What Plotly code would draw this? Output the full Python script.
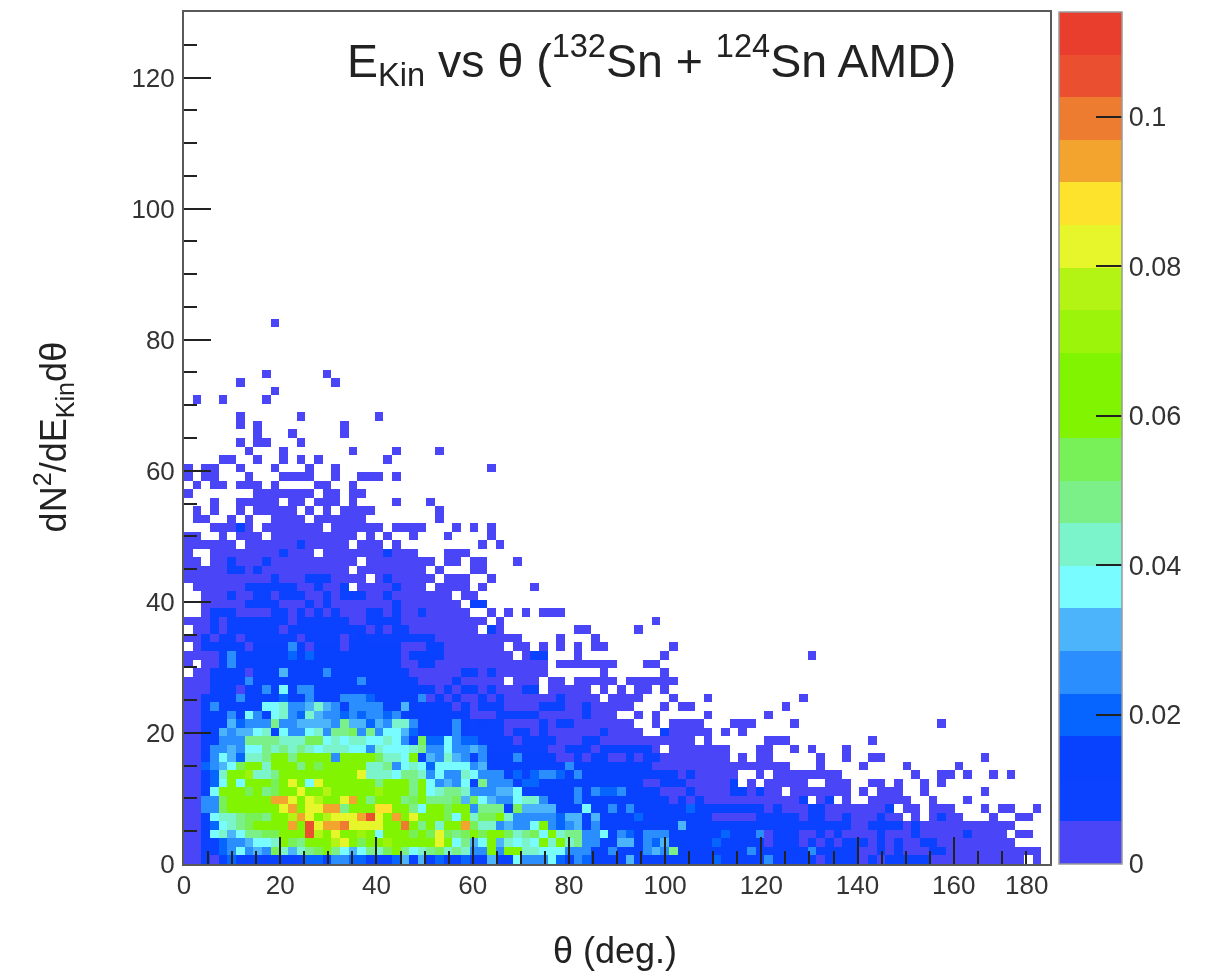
import plotly.graph_objects as go

# Histogram cells, one string per row from the lowest row upward, 100 columns.
# '.' = empty cell; other characters are colour-band numbers in base 36 (1..k).
rows_from_bottom = [
"1121343333 3333443554 4333463634 3343363375 5574354333 3633333333 3433332522 2221222212 1222221111 1111111.1.",
"1123457565 a8689ab976 798ab9789a 89855b5bb8 8777555335 3335659333 3333352222 3252222211 2121112211 111111111.",
"1123455677 8ba9bbbefb abbdcbbbbf b7967c6878 7c8b895533 6635463333 3433333122 2121212221 2121122111 111111....",
"113786799a acbbjebfbc db7bbbabaf a9ababba89 a7b8995573 5435553333 3343335122 2112121111 2111211111 21111.11..",
"1134789abb bchcjfhhif fffbcib9b8 bbha885655 7c54563533 3333333633 3333332222 2222222112 2221211111 111111....",
"1137889aa9 bcehfcefff hjfchbfbbb a7b8aab855 5554663633 3343333333 3111112222 2122112111 211.1.1211 ...1..11..",
"1155abbbbb cfhbffhh9b ccggbb97bb abb59993a6 6663337335 3533333343 3333332121 1122111111 12.11.111. ..1.11..1.",
"1155abcbbb hhfcfecbfh b9bbb9ab99 9a6a765578 8533353333 3333331313 1111111111 12.12.1..1 1111..1... 1.........",
"1137bcbab9 abcfbcecbb cbdbcb9b78 9985556673 3333353544 5333311131 111331311. 1111111.1. 111..1.... ..1.......",
"11347b7bbb abfb7fbbbb bb9bbc9b75 6573955534 4333333333 3331133311 1113.1.111 11..111..1 1.1..1.1.. ..........",
"11348bbd88 9bbbbbbbbb f888799857 5587555343 4554353333 3333333131 1111..1.11 111111.... ....1..11. 1..1.1....",
"114567abc8 bbb9babbbb b889578747 7775633333 3333533333 3333111111 1111111111 ...1....1. ...1.....1 ..........",
"1135764889 bb9bbbb5bb bba887b365 8653533353 3331121331 1312211111 111.1.11.. ...1..1..1 1......... ..1.......",
"1125565779 8989878887 7587778955 7556522222 2211222122 22221.1111 111...11.. 1.1...1... .......... ..........",
"1123555999 9888aa7878 8778753a44 7544222212 2221112211 111111111. 1......111 .........1 .......... ..........",
"1133656678 375578599a 5957764333 3532222122 1211111121 111..21111 1.1.1..... .......... .......... ..........",
"1133364555 9556666596 6465885333 3532322111 1212211111 11..1.1111 ...111.... 1......... .......1.. ..........",
"1133353753 7854865545 4554533333 3331112222 2111112111 ..1.1..... 1......1.. .......... .......... ..........",
"1135333337 7855686535 5553363333 3131222111 1222112111 11...1.11. .........1 .......... .......... ..........",
"1133335333 3433533355 5433333513 1311212111 11121111.1 111...1... 1......... .1........ .......... ..........",
"1113331335 3735533333 3333333331 3132121112 2.11111.1. 1.11.1.... .......... .......... .......... ..........",
"1113333533 3333333333 5333333111 1311111.11 1.11.11111 .111111... .......... .......... .......... ..........",
".113333133 3633335333 3333331111 1132121111 11......1. .....1.... .......... .......... .......... ..........",
"1.11353333 3333333333 3333311331 1111111111 11.1111111 ...11..... .......... .......... .......... ..........",
"1111353333 3343433333 3333313333 11111111.1 22...1.... .....1.... .......... ..1....... .......... ..........",
".123333133 3353133313 3333311133 1111111.11 .1.1.1.11. ......1... .......... .......... .......... ..........",
"1121221222 2221222212 3222222221 111111111. ...1...1.. .......... .......... .......... .......... ..........",
".112122222 2122222222 2121221111 1111.21... .....11... ..1....... .......... .......... .......... ..........",
"1112122222 2212222221 1222211111 11111.1... .......... ....1..... .......... .......... .......... ..........",
"..12221111 2212121211 1221211211 111..1.1.1 .111...... .......... .......... .......... .......... ..........",
"..11111222 2111212111 1111211111 11.22..... .......... .......... .......... .......... .......... ..........",
"..11121122 1222112122 2112111111 1.11...... .......... .......... .......... .......... .......... ..........",
".111111222 222112112. 11112111.1 111.1..... 1......... .......... .......... .......... .......... ..........",
"1111111111 2111222111 1.1211111. 111..1.... .......... .......... .......... .......... .......... ..........",
"1111122121 111111111. 11111111.1 ...11..... .......... .......... .......... .......... .......... ..........",
"11.1121112 1111111111 .11111111. 11.11...1. .......... .......... .......... .......... .......... ..........",
"1..1111111 12111.1111 1112111... 111....... .......... .......... .......... .......... .......... ..........",
"111111.111 111211111. 111.1..... ....1.1... .......... .......... .......... .......... .......... ..........",
"11..1.111. 1111111111 .1.1..1... 1....1.... .......... .......... .......... .......... .......... ..........",
"...11121.1 111111.111 111.1111.. .1.1.1.... .......... .......... .......... .......... .......... ..........",
".11..1.1.. 1111.11111 1........1 .......... .......... .......... .......... .......... .......... ..........",
".1.1..1.11 111.1.1.11 11.......1 .......... .......... .......... .......... .......... .......... ..........",
"...1..1111 1.11.111.1 ....1...1. .......... .......... .......... .......... .......... .......... ..........",
"1.......11 11111.11.1 1......... .......... .......... .......... .......... .......... .......... ..........",
".1.11.111. 1....11..1 .......... .......... .......... .......... .......... .......... .......... ..........",
"1.11...1.. .1111..1.. 111.1..... .......... .......... .......... .......... .......... .......... ..........",
"1.11..1... 1...1..1.. .......... .....1.... .......... .......... .......... .......... .......... ..........",
"....11..1. .1.1.1.... ...1...... .......... .......... .......... .......... .......... .......... ..........",
".......1.. .1.......1 ....1....1 .......... .......... .......... .......... .......... .......... ..........",
"......1.11 ...1...... .......... .......... .......... .......... .......... .......... .......... ..........",
"........1. ..1.....1. .......... .......... .......... .......... .......... .......... .......... ..........",
"......1.1. ........1. .......... .......... .......... .......... .......... .......... .......... ..........",
"......1... ...1...... ..1....... .......... .......... .......... .......... .......... .......... ..........",
".......... .......... .......... .......... .......... .......... .......... .......... .......... ..........",
".1..1....1 .......... .......... .......... .......... .......... .......... .......... .......... ..........",
".......... 1......... .......... .......... .......... .......... .......... .......... .......... ..........",
"......1... .......1.. .......... .......... .......... .......... .......... .......... .......... ..........",
".........1 ......1... .......... .......... .......... .......... .......... .......... .......... ..........",
".......... .......... .......... .......... .......... .......... .......... .......... .......... ..........",
".......... .......... .......... .......... .......... .......... .......... .......... .......... ..........",
".......... .......... .......... .......... .......... .......... .......... .......... .......... ..........",
".......... .......... .......... .......... .......... .......... .......... .......... .......... ..........",
".......... .......... .......... .......... .......... .......... .......... .......... .......... ..........",
".......... 1......... .......... .......... .......... .......... .......... .......... .......... ..........",
]

band_colors = ["#4A46F8", "#0A42FF", "#0842FF", "#0664FF", "#2B8EFF", "#4CB4FA", "#78FCFF", "#7BF4CC",
               "#7CF088", "#78F058", "#80F400", "#80F400", "#9BF40A", "#B4F414", "#E6F62A", "#FDE32C",
               "#F3A42F", "#EE7C30", "#EA4F30", "#E93E2E"]
z_max = 0.114
x_ticks = [0, 20, 40, 60, 80, 100, 120, 140, 160]
y_ticks = [0, 20, 40, 60, 80, 100, 120]
bar_ticks = [0, 0.02, 0.04, 0.06, 0.08, 0.1]
bar_labels = ["0", "0.02", "0.04", "0.06", "0.08", "0.1"]

FONT = "Liberation Sans"
INK = "#333333"
DARK = "#222222"
FRAME = "#5a5a5a"
n_bands = len(band_colors)
band_w = z_max / n_bands

z = []
for row in rows_from_bottom:
    s = row.replace(" ", "").ljust(100, ".")
    z.append([None if ch == "." else (int(ch, 36) - 0.5) * band_w for ch in s])
while len(z) < 100:
    z.append([None] * 100)

scale = []
for i, c in enumerate(band_colors):
    scale.append([i / n_bands, c])
    scale.append([(i + 1) / n_bands, c])

fig = go.Figure(go.Heatmap(
    z=z, x0=0.9, dx=1.8, y0=0.65, dy=1.3,
    zmin=0, zmax=z_max, colorscale=scale, hoverongaps=False,
    colorbar=dict(
        thickness=63, thicknessmode="pixels", len=1, lenmode="fraction",
        xref="container", x=1059 / 1208, xanchor="left", xpad=0, y=0, yanchor="bottom", ypad=0,
        tickmode="array", tickvals=bar_ticks, ticktext=bar_labels,
        ticks="inside", ticklen=26, tickwidth=1.5, tickcolor="#222222",
        tickfont=dict(family=FONT, size=27, color=INK),
        outlinecolor="#9a9a9a", outlinewidth=1.5,
    ),
))

axis_common = dict(
    ticks="inside", ticklen=27, tickwidth=1.5, tickcolor="#222222",
    minor=dict(dtick=5, ticks="inside", ticklen=13, tickwidth=1.5, tickcolor="#222222"),
    showgrid=False, zeroline=False, showline=True, mirror=True, linecolor=FRAME, linewidth=2,
    tickfont=dict(size=26, color=INK),
)

fig.update_layout(
    width=1208, height=971, autosize=False,
    margin=dict(l=184, r=158, t=12, b=107, autoexpand=False),
    paper_bgcolor="white", plot_bgcolor="white",
    font=dict(family=FONT, color=INK),
    xaxis=dict(range=[0, 180], tickmode="array", tickvals=x_ticks, ticklabelstandoff=-3, **axis_common),
    yaxis=dict(range=[0, 130], tickmode="array", tickvals=y_ticks, ticklabelstandoff=2, **axis_common),
    annotations=[
        dict(text="180", x=180, y=0, xref="x", yref="paper", xanchor="right", yanchor="top",
             yshift=-4, showarrow=False, font=dict(size=26, color=INK)),
        dict(text="E<sub>Kin</sub> vs θ (<sup>132</sup>Sn + <sup>124</sup>Sn AMD)",
             x=0.540, y=0.943, xref="paper", yref="paper", xanchor="center", yanchor="middle",
             showarrow=False, font=dict(size=46.5, color=DARK)),
        dict(text="θ (deg.)", x=0.498, y=-0.101, xref="paper", yref="paper", xanchor="center", yanchor="middle",
             showarrow=False, font=dict(size=36, color=DARK)),
        dict(text="dN<sup>2</sup>/dE<sub>Kin</sub>dθ", x=-0.151, y=0.501, xref="paper", yref="paper",
             xanchor="center", yanchor="middle", textangle=-90,
             showarrow=False, font=dict(size=36, color=DARK)),
    ],
)

fig.write_html(
    "out.html",
    config={"displayModeBar": False},
    post_script="document.body.style.margin='0';"
                "document.querySelector('.plot-container').style.filter='blur(0.6px)';",
)
